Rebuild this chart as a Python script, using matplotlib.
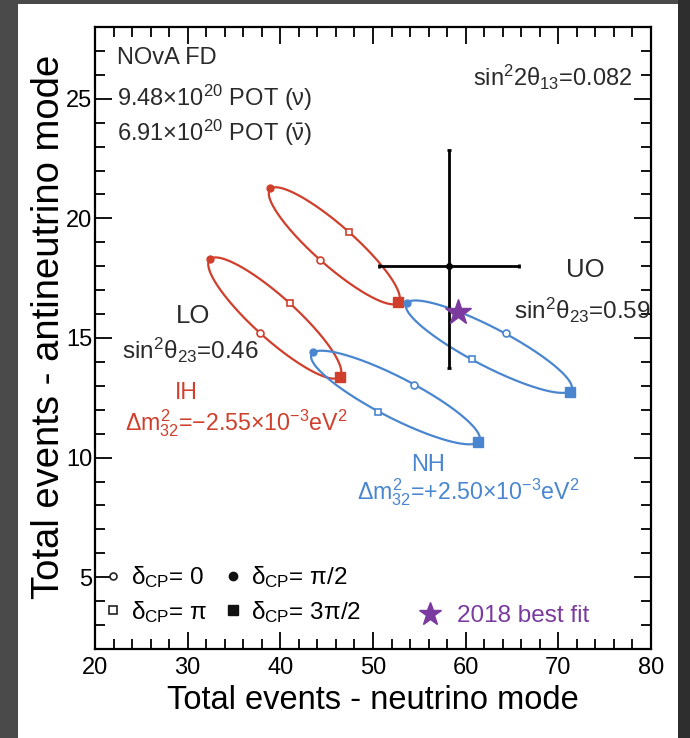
import numpy as np
import matplotlib
matplotlib.use("Agg")
import matplotlib.pyplot as plt
from matplotlib.patches import Rectangle
from matplotlib.lines import Line2D
from matplotlib.ticker import MultipleLocator

plt.rcParams['font.family'] = ['Liberation Sans', 'DejaVu Sans']
plt.rcParams['mathtext.fontset'] = 'custom'
plt.rcParams['mathtext.rm'] = 'Liberation Sans'
plt.rcParams['mathtext.it'] = 'Liberation Sans'
plt.rcParams['mathtext.bf'] = 'Liberation Sans:bold'

# marker points on each ellipse, order: dCP = 0, pi/2, pi, 3pi/2
ih_uo_x = [44.3, 38.9, 47.4, 52.7]
ih_uo_y = [18.25, 21.25, 19.42, 16.5]
ih_lo_x = [37.8, 32.4, 41.0, 46.4]
ih_lo_y = [15.21, 18.29, 16.46, 13.38]
nh_uo_x = [64.35, 53.7, 60.7, 71.25]
nh_uo_y = [15.21, 16.46, 14.13, 12.75]
nh_lo_x = [54.4, 43.5, 50.5, 61.3]
nh_lo_y = [13.04, 14.42, 11.92, 10.67]

# observed data point
data_x, data_y = 58.2, 18.0
data_xerr = 7.6
data_yerr = [[4.25], [4.85]]

# 2018 best fit
best_x, best_y = 59.2, 16.1

RED = '#cf3f2c'
BLUE = '#4a86cf'
PURPLE = '#7a3a9e'
TXT = '#2a2a2a'


def draw_ellipse(ax, xs, ys, color):
    xs = np.array(xs)
    ys = np.array(ys)
    cx, cy = xs.mean(), ys.mean()
    ax_, ay_ = (xs[0] - xs[2]) / 2, (ys[0] - ys[2]) / 2
    bx_, by_ = (xs[1] - xs[3]) / 2, (ys[1] - ys[3]) / 2
    d = np.linspace(0, 2 * np.pi, 300)
    ax.plot(cx + ax_ * np.cos(d) + bx_ * np.sin(d),
            cy + ay_ * np.cos(d) + by_ * np.sin(d), color=color, lw=1.6, zorder=2)
    ax.plot(xs[0], ys[0], 'o', ms=5, mfc='white', mec=color, mew=1.2, zorder=3)
    ax.plot(xs[1], ys[1], 'o', ms=5, mfc=color, mec=color, zorder=3)
    ax.plot(xs[2], ys[2], 's', ms=5, mfc='white', mec=color, mew=1.2, zorder=3)
    ax.plot(xs[3], ys[3], 's', ms=7, mfc=color, mec=color, zorder=3)


fig = plt.figure(figsize=(6.9, 7.38), dpi=100, facecolor='#4a4a4a')
fig.patches.append(Rectangle((18 / 690, 0), 660 / 690, 734 / 738, transform=fig.transFigure,
                             facecolor='white', edgecolor='none', zorder=-10))
fig.patches.append(Rectangle((678 / 690, 0), 12 / 690, 1, transform=fig.transFigure,
                             facecolor='#2e2e2e', edgecolor='none', zorder=-10))
ax = fig.add_axes([95 / 690, 89 / 738, 556 / 690, 622 / 738])

draw_ellipse(ax, ih_uo_x, ih_uo_y, RED)
draw_ellipse(ax, ih_lo_x, ih_lo_y, RED)
draw_ellipse(ax, nh_uo_x, nh_uo_y, BLUE)
draw_ellipse(ax, nh_lo_x, nh_lo_y, BLUE)

ax.errorbar(data_x, data_y, xerr=data_xerr, yerr=data_yerr, fmt='o', color='black',
            ms=4, elinewidth=2, capsize=1.5, capthick=2, zorder=4)
ax.plot(best_x, best_y, '*', ms=19, color=PURPLE, zorder=5)

ax.set_xlim(20, 80)
ax.set_ylim(2, 28)
ax.xaxis.set_major_locator(MultipleLocator(10))
ax.xaxis.set_minor_locator(MultipleLocator(2))
ax.yaxis.set_major_locator(MultipleLocator(5))
ax.yaxis.set_minor_locator(MultipleLocator(1))
ax.tick_params(which='both', direction='in', top=True, right=True, width=1.3)
ax.tick_params(which='major', length=12, labelsize=17)
ax.tick_params(axis='x', which='major', pad=6)
ax.tick_params(axis='y', which='major', pad=2)
ax.tick_params(which='minor', length=7)
for s in ax.spines.values():
    s.set_linewidth(1.6)

ax.set_xlabel('Total events - neutrino mode', fontsize=23.5, labelpad=4)
ax.set_ylabel('Total events - antineutrino mode', fontsize=27.5, labelpad=-1)
ax.yaxis.label.set_y(0.518)

# annotations
ax.text(22.37, 26.7, 'NOvA FD', fontsize=17, va='center', color=TXT)
ax.text(22.37, 25.04, r'9.48×10$^{20}$ POT ($\nu$)', fontsize=17, va='center', color=TXT)
ax.text(22.37, 23.58, r'6.91×10$^{20}$ POT ($\bar{\nu}$)', fontsize=17, va='center', color=TXT)
ax.text(77.95, 25.9, r'sin$^2$2θ$_{13}$=0.082', fontsize=17, va='center', ha='right', color=TXT)
ax.text(72.9, 17.83, 'UO', fontsize=18.5, va='center', ha='center', color=TXT)
ax.text(79.9, 16.17, r'sin$^2$θ$_{23}$=0.59', fontsize=17.5, va='center', ha='right', color=TXT)
ax.text(30.6, 15.9, 'LO', fontsize=18.5, va='center', ha='center', color=TXT)
ax.text(22.9, 14.5, r'sin$^2$θ$_{23}$=0.46', fontsize=17.5, va='center', color=TXT)
ax.text(29.9, 12.71, 'IH', fontsize=16.5, va='center', ha='center', color=RED)
ax.text(23.2, 11.46, r'Δ$m^2_{32}$=−2.55×10$^{-3}$eV$^2$', fontsize=16.7, va='center', color=RED)
ax.text(55.9, 9.71, 'NH', fontsize=17, va='center', ha='center', color=BLUE)
ax.text(48.3, 8.54, r'Δ$m^2_{32}$=+2.50×10$^{-3}$eV$^2$', fontsize=16.7, va='center', color=BLUE)

# legends
h_cp = [
    Line2D([], [], ls='none', marker='o', ms=5, mfc='white', mec='#222222', mew=1.2),
    Line2D([], [], ls='none', marker='s', ms=6, mfc='white', mec='#222222', mew=1.2),
    Line2D([], [], ls='none', marker='o', ms=6, color='#111111'),
    Line2D([], [], ls='none', marker='s', ms=7, color='#111111'),
]
l_cp = [r'δ$_{\rm CP}$= 0', r'δ$_{\rm CP}$= π', r'δ$_{\rm CP}$= π/2', r'δ$_{\rm CP}$= 3π/2']
leg1 = ax.legend(h_cp, l_cp, ncol=2, loc='lower left', bbox_to_anchor=(-0.012, 0.012),
                 frameon=False, handlelength=0.6, handletextpad=0.45,
                 columnspacing=0.75, labelspacing=0.35, borderaxespad=0.3, prop={'size': 17.5})
ax.add_artist(leg1)
h_bf = [Line2D([], [], ls='none', marker='*', ms=17, color=PURPLE)]
ax.legend(h_bf, ['2018 best fit'], loc='lower left', bbox_to_anchor=(0.55, 0.008),
          frameon=False, fontsize=17.5, labelcolor=PURPLE, handlelength=1.0,
          handletextpad=0.6, borderaxespad=0.3)

fig.savefig('out.png', dpi=100, facecolor=fig.get_facecolor())
